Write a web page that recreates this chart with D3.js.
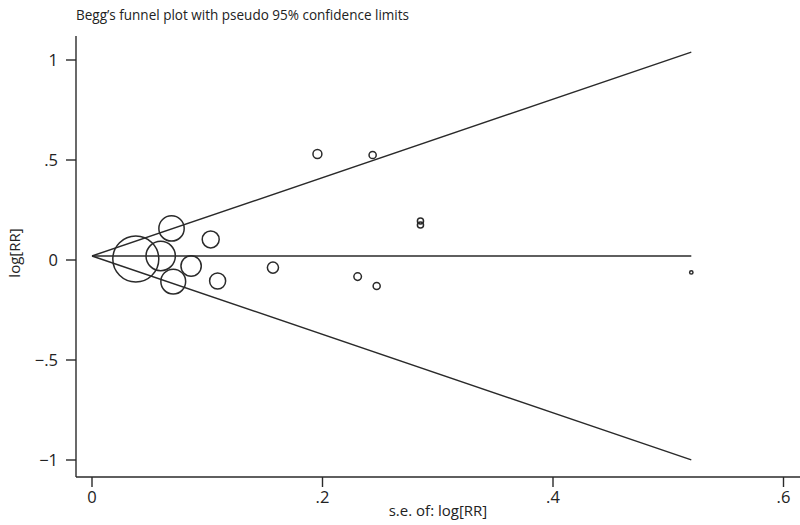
<!DOCTYPE html>
<html><head><meta charset="utf-8">
<script src="https://cdn.jsdelivr.net/npm/d3@7"></script>
<style>
body{margin:0;background:#fff;}
text{font-family:"Open Sans","Noto Sans",sans-serif;fill:#222;}
</style></head>
<body><svg id="c" width="800" height="525"></svg>
<script>
// Study data: standard error and log relative risk
const se    = [0.038, 0.069, 0.0596, 0.0705, 0.086, 0.103, 0.109, 0.157, 0.1956, 0.2435, 0.2305, 0.247, 0.285, 0.285, 0.52];
const logRR = [0.005, 0.158, 0.020, -0.108, -0.030, 0.103, -0.105, -0.038, 0.530, 0.525, -0.083, -0.130, 0.195, 0.175, -0.062];
const pooled = 0.02;
const maxSE = 0.52;
const xTicks = [0, 0.2, 0.4, 0.6];
const xTickLabels = ["0", ".2", ".4", ".6"];
const yTicks = [1, 0.5, 0, -0.5, -1];
const yTickLabels = ["1", ".5", "0", "\u2212.5", "\u22121"];
const title = "Begg\u2019s funnel plot with pseudo 95% confidence limits";
const xTitle = "s.e. of: log[RR]";
const yTitle = "log[RR]";

const svg = d3.select("#c");
const x = d3.scaleLinear().domain([0, 0.6]).range([92, 783.5]);
const y = d3.scaleLinear().domain([-1, 1]).range([460, 60]);
const pLeft = 76, pBottom = 477, pTop = 36, pRight = 800;
const r = d3.scaleLinear().domain([0, 1/0.038]).range([0, 23]);
const stroke = "#2a2a2a";

// axes lines
svg.append("line").attr("x1", pLeft).attr("x2", pLeft).attr("y1", pTop).attr("y2", pBottom).attr("stroke", stroke).attr("stroke-width", 1.4);
svg.append("line").attr("x1", pLeft).attr("x2", pRight).attr("y1", pBottom).attr("y2", pBottom).attr("stroke", stroke).attr("stroke-width", 1.4);

yTicks.forEach((t, i) => {
  svg.append("line").attr("x1", pLeft - 10).attr("x2", pLeft).attr("y1", y(t)).attr("y2", y(t)).attr("stroke", stroke).attr("stroke-width", 1.4);
  svg.append("text").attr("x", pLeft - 18).attr("y", y(t)).attr("dy", "0.36em").attr("text-anchor", "end").attr("font-size", 16.5).text(yTickLabels[i]);
});
xTicks.forEach((t, i) => {
  svg.append("line").attr("x1", x(t)).attr("x2", x(t)).attr("y1", pBottom).attr("y2", pBottom + 10).attr("stroke", stroke).attr("stroke-width", 1.4);
  svg.append("text").attr("x", x(t)).attr("y", pBottom + 26).attr("text-anchor", "middle").attr("font-size", 16.5).text(xTickLabels[i]);
});

svg.append("text").attr("x", 438).attr("y", 516).attr("text-anchor", "middle").attr("font-size", 15).text(xTitle);
svg.append("text").attr("transform", "translate(20,253) rotate(-90)").attr("text-anchor", "middle").attr("font-size", 15).text(yTitle);
svg.append("text").attr("x", 76).attr("y", 20).attr("font-size", 15)
  .attr("textLength", 333).attr("lengthAdjust", "spacingAndGlyphs").text(title);

// funnel lines
const lines = [
  [[0, pooled], [maxSE, pooled]],
  [[0, pooled], [maxSE, pooled + 1.96 * maxSE]],
  [[0, pooled], [maxSE, pooled - 1.96 * maxSE]]
];
const lineGen = d3.line().x(d => x(d[0])).y(d => y(d[1]));
lines.forEach(l => svg.append("path").attr("d", lineGen(l)).attr("fill", "none").attr("stroke", stroke).attr("stroke-width", 1.4));

// points
svg.selectAll("circle.pt").data(se.map((s, i) => ({s, v: logRR[i]}))).enter()
  .append("circle").attr("class", "pt")
  .attr("cx", d => x(d.s)).attr("cy", d => y(d.v)).attr("r", d => r(1 / d.s))
  .attr("fill", "none").attr("stroke", stroke).attr("stroke-width", 1.5);
</script></body></html>
